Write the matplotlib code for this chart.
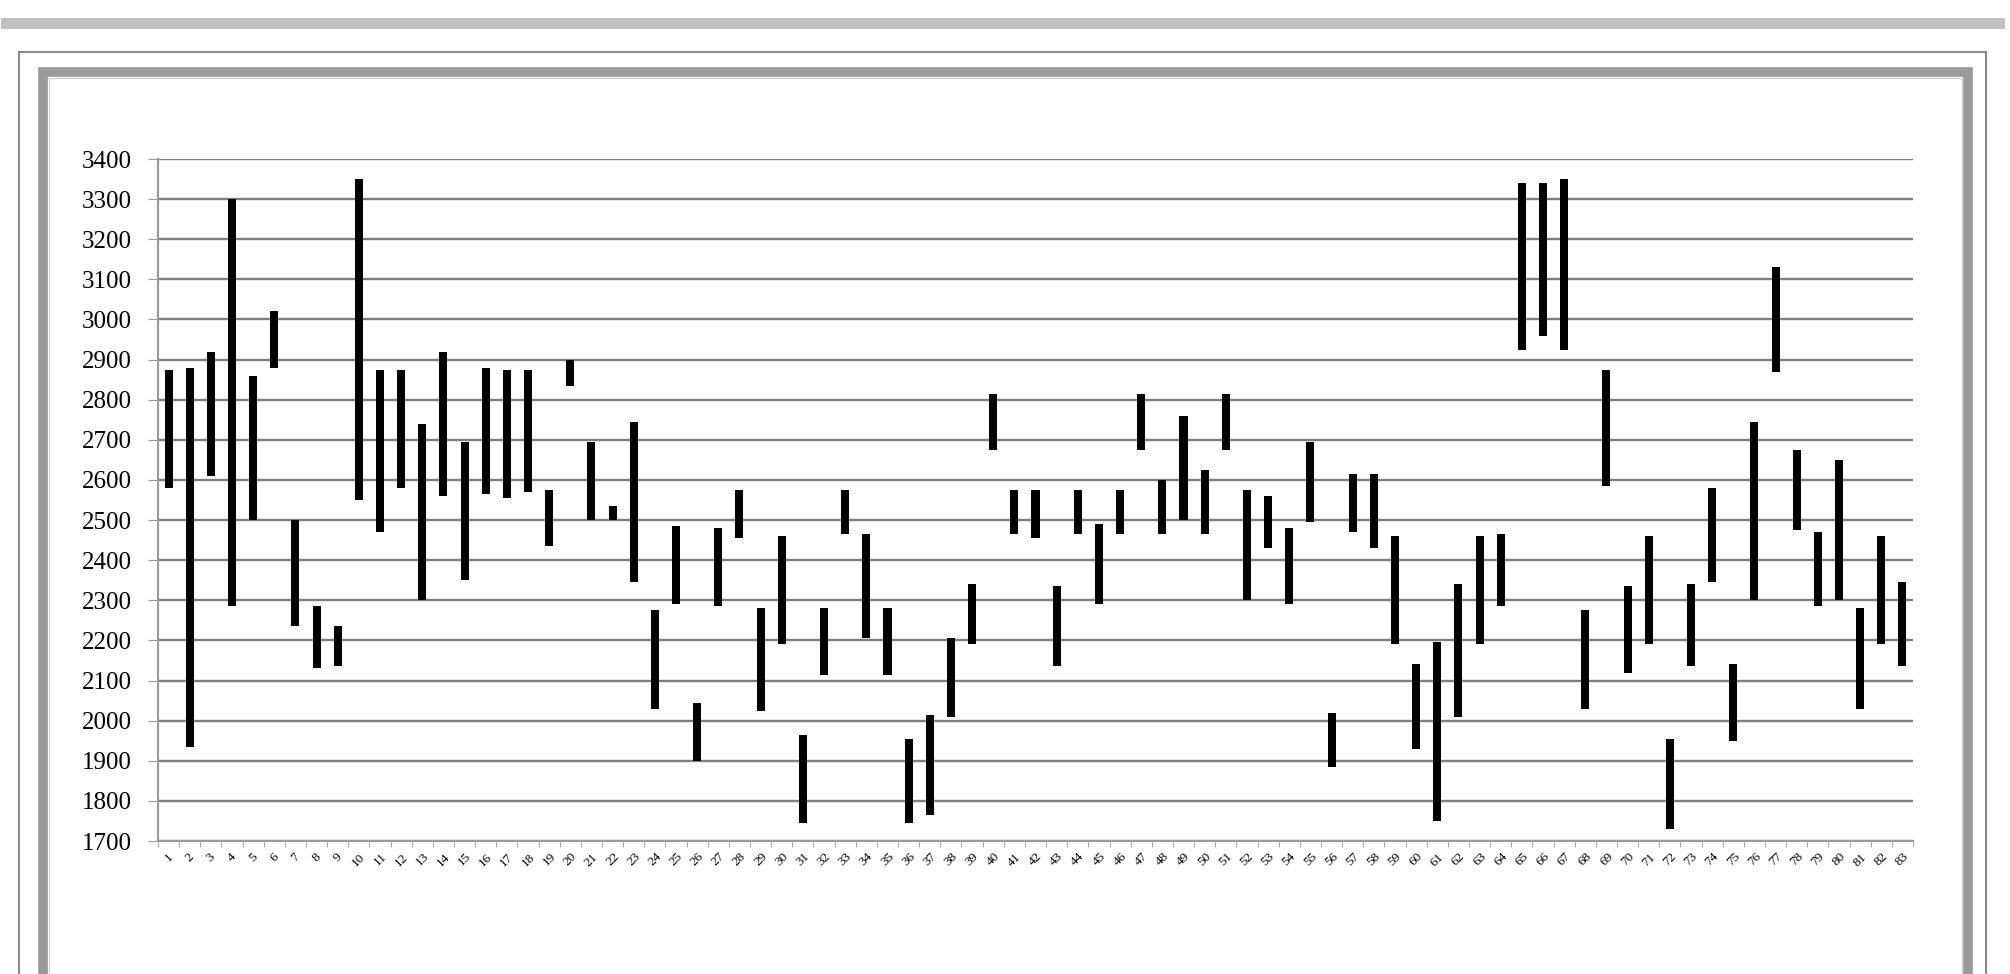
"""
Floating high-low bars for 83 items, Excel-style look.
"""

import matplotlib.pyplot as plt
from matplotlib.patches import Rectangle

W, H = 2010, 974

lows = [
    2580, 1935, 2610, 2285, 2500, 2880, 2235, 2130, 2135, 2550,
    2470, 2580, 2300, 2560, 2350, 2565, 2555, 2570, 2435, 2835,
    2500, 2500, 2345, 2030, 2290, 1900, 2285, 2455, 2025, 2190,
    1745, 2115, 2465, 2205, 2115, 1745, 1765, 2010, 2190, 2675,
    2465, 2455, 2135, 2465, 2290, 2465, 2675, 2465, 2500, 2465,
    2675, 2300, 2430, 2290, 2495, 1885, 2470, 2430, 2190, 1930,
    1750, 2010, 2190, 2285, 2925, 2960, 2925, 2030, 2585, 2120,
    2190, 1730, 2135, 2345, 1950, 2300, 2870, 2475, 2285, 2300,
    2030, 2190, 2135,
]
highs = [
    2875, 2880, 2920, 3300, 2860, 3020, 2500, 2285, 2235, 3350,
    2875, 2875, 2740, 2920, 2695, 2880, 2875, 2875, 2575, 2900,
    2695, 2535, 2745, 2275, 2485, 2045, 2480, 2575, 2280, 2460,
    1965, 2280, 2575, 2465, 2280, 1955, 2015, 2205, 2340, 2815,
    2575, 2575, 2335, 2575, 2490, 2575, 2815, 2600, 2760, 2625,
    2815, 2575, 2560, 2480, 2695, 2020, 2615, 2615, 2460, 2140,
    2195, 2340, 2460, 2465, 3340, 3340, 3350, 2275, 2875, 2335,
    2460, 1955, 2340, 2580, 2140, 2745, 3130, 2675, 2470, 2650,
    2280, 2460, 2345,
]
categories = [str(i) for i in range(1, len(lows) + 1)]
y_ticks = list(range(1700, 3401, 100))


def main() -> None:
    plt.rcParams["font.family"] = ["Liberation Serif", "DejaVu Serif"]

    fig = plt.figure(figsize=(W / 100, H / 100), dpi=100)

    # decorations around the chart (gray strip, outer frame, thick inner frame)
    fig.add_artist(Rectangle((1 / W, 1 - 29 / H), 2004 / W, 11 / H,
                             transform=fig.transFigure, facecolor="#c0c0c0",
                             edgecolor="none"))
    fig.add_artist(Rectangle((19 / W, -0.05), (1986 - 19) / W, 1.05 - 52 / H,
                             transform=fig.transFigure, facecolor="none",
                             edgecolor="#8a8a8a", lw=1.5))
    fig.add_artist(Rectangle((43 / W, -0.05), (1968 - 43) / W, 1.05 - 72 / H,
                             transform=fig.transFigure, facecolor="none",
                             edgecolor="#9a9a9a", lw=7))
    fig.add_artist(Rectangle((49 / W, -0.05), (1962 - 49) / W, 1.05 - 78 / H,
                             transform=fig.transFigure, facecolor="none",
                             edgecolor="#d0d0d0", lw=1))

    ax = fig.add_axes([158 / W, 1 - 841 / H, (1913 - 158) / W, (841 - 159) / H])

    x = list(range(len(categories)))
    heights = [h - l for l, h in zip(lows, highs)]
    ax.bar(x, heights, bottom=lows, width=0.38, color="black", zorder=3)

    ax.set_xlim(-0.5, len(categories) - 0.5)
    ax.set_ylim(1700, 3400)
    ax.set_yticks(y_ticks)
    ax.set_yticklabels([str(v) for v in y_ticks], fontsize=18)
    ax.yaxis.grid(True, color="#7f7f7f", lw=1.7, zorder=0)

    ax.set_xticks(x)
    ax.set_xticklabels(categories, rotation=45, fontsize=9.5,
                       ha="center", va="top")
    ax.set_xticks([i - 0.5 for i in range(len(categories) + 1)], minor=True)
    ax.tick_params(axis="x", which="major", length=0, pad=7)
    ax.tick_params(axis="x", which="minor", length=4, color="#9a9a9a")
    ax.tick_params(axis="y", length=7, color="#9a9a9a", pad=12)

    for side in ("top", "right"):
        ax.spines[side].set_visible(False)
    for side in ("left", "bottom"):
        ax.spines[side].set_color("#9a9a9a")
        ax.spines[side].set_linewidth(1.5)

    fig.savefig("out.png", dpi=100)
    plt.close(fig)


if __name__ == "__main__":
    main()
